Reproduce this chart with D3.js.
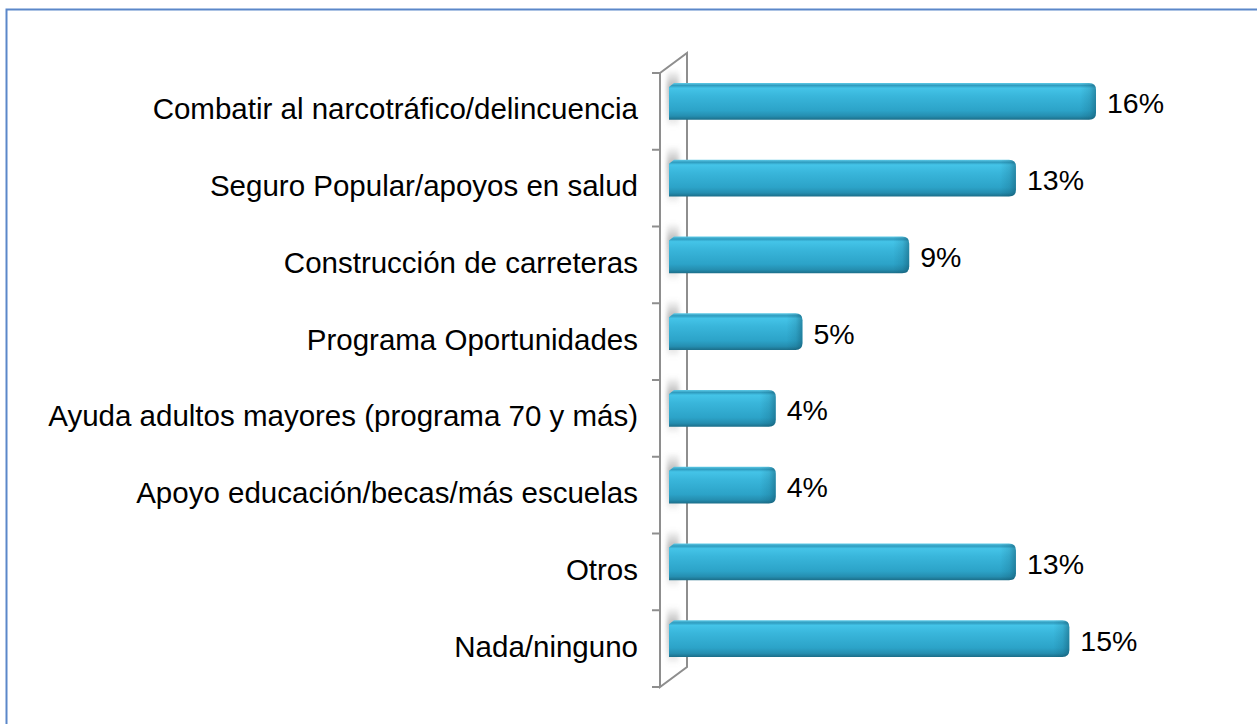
<!DOCTYPE html>
<html>
<head>
<meta charset="utf-8">
<script src="https://cdn.jsdelivr.net/npm/d3@7"></script>
<style>
  body { margin: 0; background: #fff; }
  svg { display: block; }
  text { font-family: "Liberation Sans", Arial, sans-serif; fill: #000; }
</style>
</head>
<body>
<svg id="chart" width="1257" height="724"></svg>
<script>
// données
var categories = [
    "Combatir al narcotráfico/delincuencia",
    "Seguro Popular/apoyos en salud",
    "Construcción de carreteras",
    "Programa Oportunidades",
    "Ayuda adultos mayores (programa 70 y más)",
    "Apoyo educación/becas/más escuelas",
    "Otros",
    "Nada/ninguno"
];
var valeurs = [16, 13, 9, 5, 4, 4, 13, 15];
var etiquettes = ["16%", "13%", "9%", "5%", "4%", "4%", "13%", "15%"];

var svg = d3.select("#chart");
var W = 1257, H = 724;

/* cadre bleu (haut et gauche seulement) */
svg.append("path")
    .attr("d", "M 6.5 " + H + " L 6.5 9.5 L " + W + " 9.5")
    .attr("fill", "none")
    .attr("stroke", "#5b87c9")
    .attr("stroke-width", 2);

var axeX = 660;          // bord avant du mur
var prof = {dx: 27, dy: -20}; // profondeur 3D
var yTop = 73, yBas = 687;

var x = d3.scaleLinear().domain([0, 16]).range([669, 1096]);
var y = d3.scaleBand().domain(categories).range([yTop, yBas]).paddingInner(0.52).paddingOuter(0.26);
var yBande = d3.scaleBand().domain(categories).range([yTop, yBas]);

var defs = svg.append("defs");

/* dégradé vertical des barres */
var gBar = defs.append("linearGradient").attr("id", "gBar")
    .attr("x1", 0).attr("y1", 0).attr("x2", 0).attr("y2", 1);
[[0, "#5fcbe8"], [0.07, "#2f9cbf"], [0.14, "#44c4e8"], [0.35, "#39b6db"],
 [0.75, "#2ca3c8"], [0.9, "#258eb0"], [1, "#1b6d88"]].forEach(function (s) {
    gBar.append("stop").attr("offset", s[0]).attr("stop-color", s[1]);
});
/* assombrissement du bout de barre */
var gBout = defs.append("linearGradient").attr("id", "gBout")
    .attr("x1", 0).attr("y1", 0).attr("x2", 1).attr("y2", 0);
gBout.append("stop").attr("offset", 0).attr("stop-color", "#0d4a60").attr("stop-opacity", 0);
gBout.append("stop").attr("offset", 0.55).attr("stop-color", "#0d4a60").attr("stop-opacity", 0.15);
gBout.append("stop").attr("offset", 1).attr("stop-color", "#0d4a60").attr("stop-opacity", 0.5);
/* ombre sur le mur */
var gOmbre = defs.append("linearGradient").attr("id", "gOmbre")
    .attr("x1", 0).attr("y1", 0).attr("x2", 0).attr("y2", 1);
[[0, 0], [0.3, 0.6], [0.75, 0.35], [1, 0]].forEach(function (s) {
    gOmbre.append("stop").attr("offset", s[0]).attr("stop-color", "#8a8a8a").attr("stop-opacity", s[1]);
});
defs.append("filter").attr("id", "flou")
    .attr("x", "-50%").attr("y", "-20%").attr("width", "200%").attr("height", "140%")
    .append("feGaussianBlur").attr("stdDeviation", 2);

/* mur (plan vertical en perspective) */
svg.append("path")
    .attr("d", "M " + axeX + " " + yTop +
        " L " + (axeX + prof.dx) + " " + (yTop + prof.dy) +
        " L " + (axeX + prof.dx) + " " + (yBas + prof.dy) +
        " L " + axeX + " " + yBas + " Z")
    .attr("fill", "#fff")
    .attr("stroke", "#8e8e8e")
    .attr("stroke-width", 2);

var decal = -10; // barres au milieu de la profondeur

/* ombres des barres sur le mur */
svg.selectAll("rect.ombre")
    .data(categories)
    .enter()
    .append("rect")
    .attr("class", "ombre")
    .attr("x", axeX + 7)
    .attr("width", 12)
    .attr("y", function (d) { return y(d) + decal - 14; })
    .attr("height", function () { return y.bandwidth() + 22; })
    .attr("fill", "url(#gOmbre)")
    .attr("filter", "url(#flou)");

/* graduations de l'axe */
svg.selectAll("line.tick")
    .data(d3.range(categories.length + 1))
    .enter()
    .append("line")
    .attr("class", "tick")
    .attr("x1", axeX - 8).attr("x2", axeX)
    .attr("y1", function (i) { return yTop + i * yBande.step(); })
    .attr("y2", function (i) { return yTop + i * yBande.step(); })
    .attr("stroke", "#8e8e8e")
    .attr("stroke-width", 2);

/* barres */
var r = 7, bout = 16;
function cheminBarre(d, i) {
    var x0 = x(0), x1 = x(valeurs[i]), y0 = y(d) + decal, h = y.bandwidth();
    return "M " + x0 + " " + (y0 + 4) + " L " + (x0 + 5) + " " + y0 +
        " L " + (x1 - r) + " " + y0 +
        " Q " + x1 + " " + y0 + " " + x1 + " " + (y0 + r) +
        " L " + x1 + " " + (y0 + h - r) +
        " Q " + x1 + " " + (y0 + h) + " " + (x1 - r) + " " + (y0 + h) +
        " L " + x0 + " " + (y0 + h) + " Z";
}
var barres = svg.selectAll("g.barre")
    .data(categories)
    .enter()
    .append("g")
    .attr("class", "barre");
barres.each(function (d, i) {
    defs.append("clipPath").attr("id", "clip" + i)
        .append("path")
        .attr("d", cheminBarre(d, i));
});
barres.append("path")
    .attr("d", cheminBarre)
    .attr("fill", "url(#gBar)");
/* bout arrondi plus sombre */
barres.append("rect")
    .attr("x", function (d, i) { return x(valeurs[i]) - bout; })
    .attr("width", bout + 1)
    .attr("y", function (d) { return y(d) + decal; })
    .attr("height", y.bandwidth())
    .attr("fill", "url(#gBout)")
    .attr("clip-path", function (d, i) { return "url(#clip" + i + ")"; });

/* étiquettes des valeurs */
svg.selectAll("text.valeur")
    .data(categories)
    .enter()
    .append("text")
    .attr("class", "valeur")
    .attr("x", function (d, i) { return x(valeurs[i]) + 11; })
    .attr("y", function (d) { return y(d) + decal + y.bandwidth() / 2 + 12; })
    .attr("font-size", 28.5)
    .text(function (d, i) { return etiquettes[i]; });

/* étiquettes des catégories */
svg.selectAll("text.cat")
    .data(categories)
    .enter()
    .append("text")
    .attr("class", "cat")
    .attr("text-anchor", "end")
    .attr("x", 638)
    .attr("y", function (d) { return yBande(d) + yBande.bandwidth() / 2 + 8; })
    .attr("font-size", 29.5)
    .text(function (d) { return d; });
</script>
</body>
</html>
